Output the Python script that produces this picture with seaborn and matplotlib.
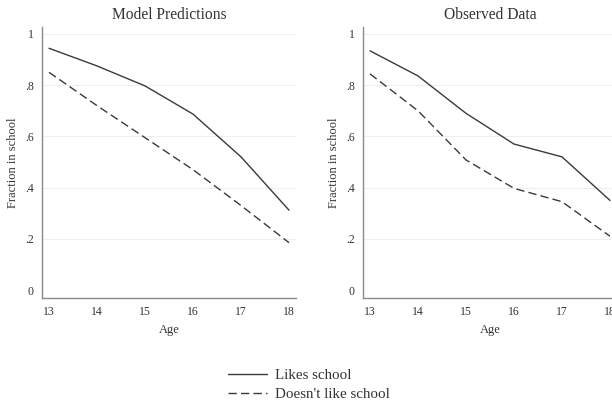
import pandas as pd
import seaborn as sns
import matplotlib.pyplot as plt

ages = [13, 14, 15, 16, 17, 18]
model_likes = [0.944, 0.875, 0.797, 0.687, 0.52, 0.312]
model_dislikes = [0.85, 0.72, 0.595, 0.47, 0.33, 0.185]
obs_likes = [0.934, 0.836, 0.69, 0.57, 0.52, 0.35]
obs_dislikes = [0.844, 0.70, 0.508, 0.397, 0.345, 0.21]
groups = ["Likes school", "Doesn't like school"]
titles = ["Model Predictions", "Observed Data"]
yticks = [0, 0.2, 0.4, 0.6, 0.8, 1]
ytick_labels = ["0", ".2", ".4", ".6", ".8", "1"]

rows = []
for title, likes, dislikes in [(titles[0], model_likes, model_dislikes),
                               (titles[1], obs_likes, obs_dislikes)]:
    for g, vals in zip(groups, [likes, dislikes]):
        for a, v in zip(ages, vals):
            rows.append({"Panel": title, "Group": g, "Age": a, "Fraction": v})
df = pd.DataFrame(rows)

sns.set_style("white")
plt.rcParams["font.family"] = ["Liberation Serif", "DejaVu Serif"]

fig = plt.figure(figsize=(6.12, 4.03), dpi=100)
positions = [[42 / 612, 1 - 298 / 403, 254 / 612, 271 / 403],
             [363 / 612, 1 - 298 / 403, 254 / 612, 271 / 403]]

axis_gray = "#8a8a8a"
line_col = "#3a3a3a"
for pos, title in zip(positions, titles):
    ax = fig.add_axes(pos)
    sns.lineplot(data=df[df["Panel"] == title], x="Age", y="Fraction",
                 style="Group", style_order=groups,
                 dashes={groups[0]: "", groups[1]: (6, 3)},
                 color=line_col, linewidth=1.0, ax=ax, legend=(title == titles[0]))
    ax.set_xlim(12.854, 18.146)
    ax.set_ylim(-0.031, 1.027)
    ax.set_xticks(ages)
    ax.set_yticks(yticks)
    ax.set_yticklabels(ytick_labels)
    ax.grid(axis="y", color="#eeeeee", linewidth=0.8)
    ax.yaxis.get_gridlines()[0].set_visible(False)
    sns.despine(ax=ax)
    for s in ["left", "bottom"]:
        ax.spines[s].set_color(axis_gray)
        ax.spines[s].set_linewidth(1.0)
    ax.tick_params(axis="both", direction="out", length=4, width=0.8,
                   color=axis_gray, labelsize=8.5, labelcolor="#333333", pad=2)
    ax.set_title(title, fontsize=11.2, color="#333333", pad=6)
    ax.set_xlabel("Age", fontsize=9, color="#333333", labelpad=4)
    ax.set_ylabel("Fraction in school", fontsize=9, color="#333333", labelpad=4)
    if title == titles[0]:
        handles, labels = ax.get_legend_handles_labels()
        ax.get_legend().remove()

fig.legend(handles, labels, loc="upper left",
           bbox_to_anchor=(214 / 612, 1 - 355 / 403), frameon=False,
           fontsize=10.8, handlelength=2.6, labelspacing=0.35, handletextpad=0.55,
           labelcolor="#333333")

fig.savefig("out.png", dpi=100)
